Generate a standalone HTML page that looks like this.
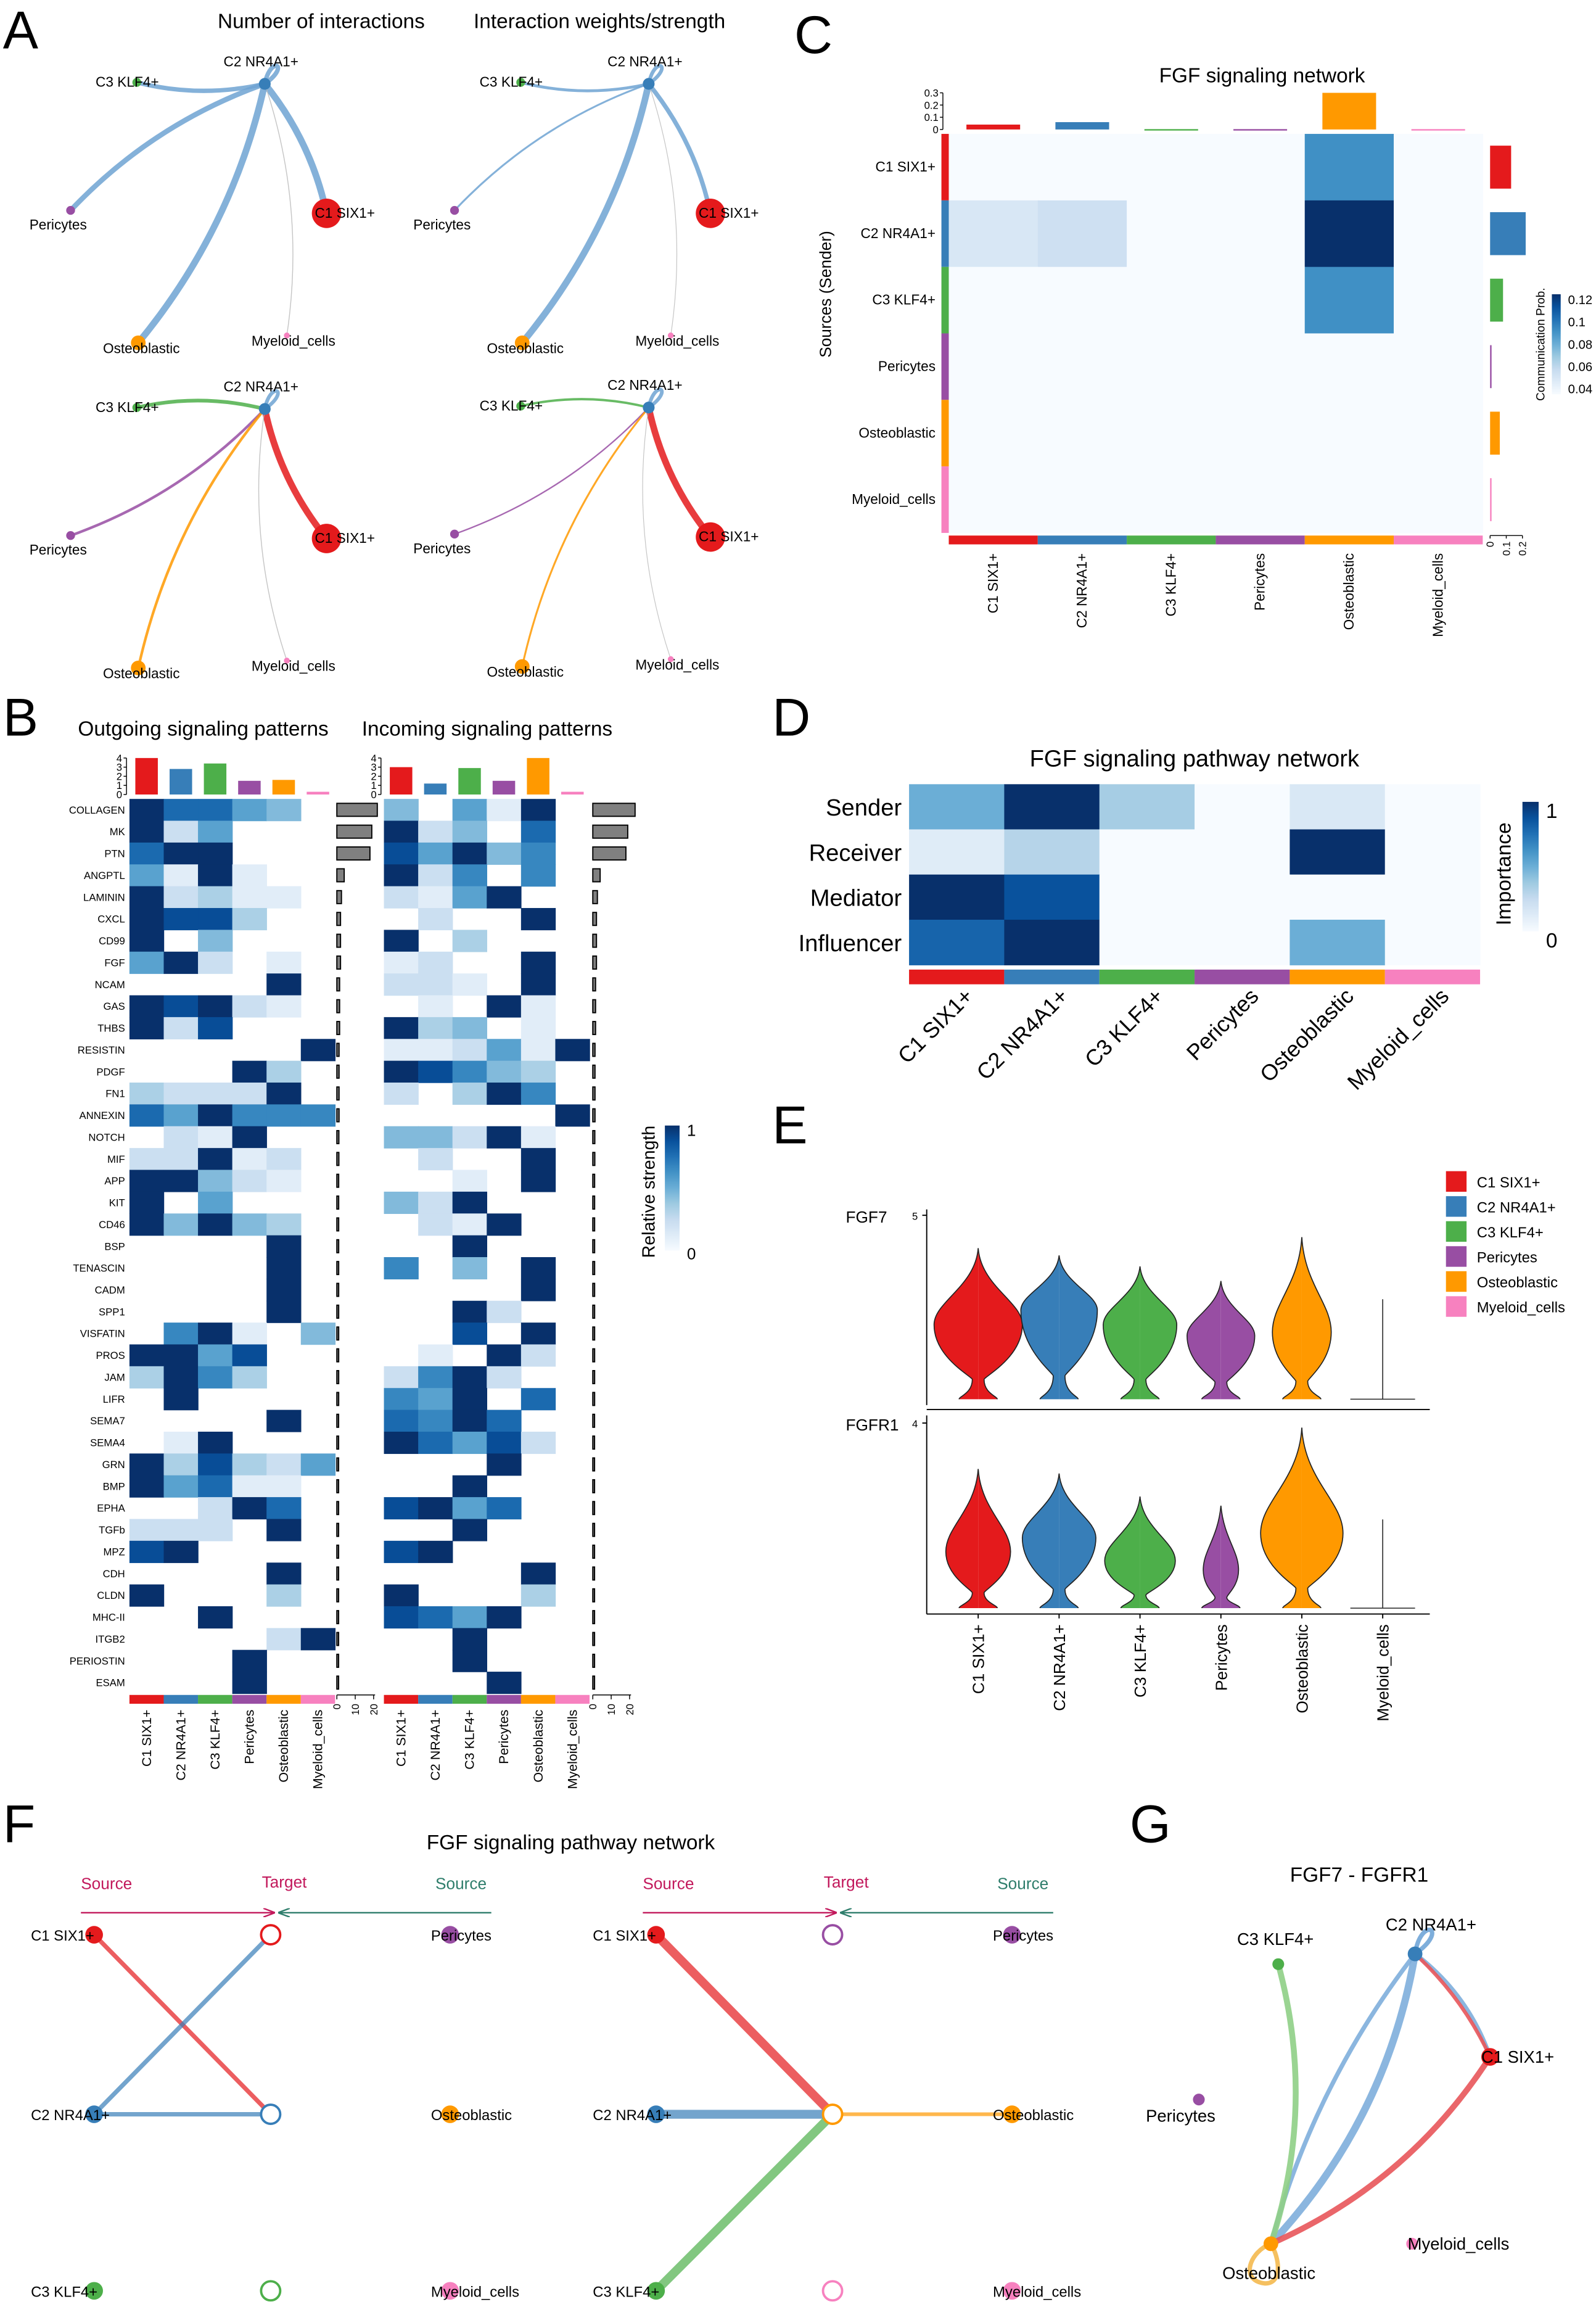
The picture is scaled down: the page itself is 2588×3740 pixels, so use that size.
<!DOCTYPE html>
<html><head><meta charset="utf-8"><style>
html,body{margin:0;padding:0;background:#fff}
svg{display:block;font-family:"Liberation Sans",Arial,sans-serif}
</style></head><body>
<svg id="fig" xmlns="http://www.w3.org/2000/svg" width="2588" height="3740" viewBox="0 0 1085 1568" preserveAspectRatio="none">
<rect x="0" y="0" width="1085" height="1568" fill="#fff"/>
<g font-size="36" fill="#000">
<text x="2" y="33">A</text>
<text x="2" y="500">B</text>
<text x="540" y="36">C</text>
<text x="525" y="500">D</text>
<text x="525" y="777">E</text>
<text x="2" y="1252">F</text>
<text x="768" y="1252">G</text>
</g>
</svg>
<script>
// ---------- data ----------
const groups = ["C1 SIX1+","C2 NR4A1+","C3 KLF4+","Pericytes","Osteoblastic","Myeloid_cells"];
const groupColors = ["#e41a1c","#377eb8","#4daf4a","#984ea3","#ff9900","#f781bf"];
const pathways = ["COLLAGEN","MK","PTN","ANGPTL","LAMININ","CXCL","CD99","FGF","NCAM","GAS","THBS","RESISTIN","PDGF","FN1","ANNEXIN","NOTCH","MIF","APP","KIT","CD46","BSP","TENASCIN","CADM","SPP1","VISFATIN","PROS","JAM","LIFR","SEMA7","SEMA4","GRN","BMP","EPHA","TGFb","MPZ","CDH","CLDN","MHC-II","ITGB2","PERIOSTIN","ESAM"];
const outgoing = ["977540","925000","799000","519100","923110","988300","904000","592010","000090","989210","928000","000009","000930","322290","759666","021900","229120","994210","905000","949430","000090","000090","000090","000090","069104","995800","396300","090000","000090","019000","938325","957110","002970","222090","890000","000090","900030","009000","000029","000900","000900"];
const incoming = ["405190","924070","859460","926060","215900","020090","903000","120090","221090","010910","934010","112519","986430","203960","000009","442910","020090","001090","429000","021900","009000","604090","000090","009200","008090","010920","269200","659070","769700","975820","000900","009000","895700","009000","890000","000090","900030","875900","009000","009000","000900"];
const outBars = [22,19,18,4,2.5,2,2,2,1.5,1.5,1.5,1.2,1.2,1.2,1.2,1.1,1.1,1,1,1,1,1,1,1,1,1,1,1,0.9,0.9,0.9,0.9,0.8,0.8,0.8,0.8,0.8,0.8,0.7,0.7,0.7];
const inBars = [23,19,18,4,2.5,2,2,2,1.5,1.5,1.5,1.2,1.2,1.2,1.2,1.1,1.1,1,1,1,1,1,1,1,1,1,1,1,0.9,0.9,0.9,0.9,0.8,0.8,0.8,0.8,0.8,0.8,0.7,0.7,0.7];
const outTop = [4,2.8,3.4,1.5,1.6,0.3];
const inTop = [3,1.2,2.9,1.5,4,0.3];
const topTicks = [0,1,2,3,4];
const barTicks = [0,10,20];

const fgfProb = [[0,0,0,0,0.09,0],[0.045,0.05,0,0,0.125,0],[0,0,0,0,0.09,0],[0,0,0,0,0,0],[0,0,0,0,0.005,0],[0,0,0,0,0,0]];
const fgfTop = [0.04,0.06,0.003,0.003,0.3,0.003];
const fgfRight = [0.13,0.22,0.08,0.005,0.06,0.005];
const fgfTopTicks = [0,0.1,0.2,0.3];
const fgfLegendTicks = [0.12,0.1,0.08,0.06,0.04];

const roles = ["Sender","Receiver","Mediator","Influencer"];
const importance = [[0.5,1,0.35,0,0.15,0],[0.12,0.3,0,0,1,0],[1,0.87,0,0,0,0],[0.8,1,0,0,0.5,0]];

const fgf7Top = [4.1,3.9,3.6,3.2,4.4,2.7];
const fgf7Peak = [2.0,2.4,2.0,1.7,1.8,0];
const fgf7Width = [30,26,25,23,20,0];
const fgfr1Top = [3.0,2.9,2.4,2.2,3.9,1.9];
const fgfr1Peak = [1.2,1.5,1.0,0.8,1.6,0];
const fgfr1Width = [22,25,24,12,28,0];

// circle-plot edges: [sourceIdx, targetIdx, width]
const aNumEdges = [[1,2,3],[1,3,3.5],[1,0,4.5],[1,4,4.5],[1,5,0.6],[1,1,3]];
const aWeightEdges = [[1,2,2],[1,3,1.3],[1,0,3],[1,4,4.5],[1,5,0.5],[1,1,2.5]];
const aNumEdges2 = [[2,1,2.5],[3,1,1.8],[0,1,4.5],[4,1,1.8],[5,1,0.6],[1,1,2.5]];
const aWeightEdges2 = [[2,1,1.6],[3,1,1],[0,1,4.5],[4,1,1.3],[5,1,0.5],[1,1,2.5]];
const fLeftEdges = [[0,1,3],[1,0,3],[1,1,3]];
const fRightEdges = [[0,4,6],[1,4,6],[2,4,6],[4,4,2.5]];
const gEdges = [[1,0,3,"a"],[0,1,2.5,"b"],[1,4,5,"a"],[1,4,3,"b"],[2,4,4,"a"],[0,4,4,"a"]];

// ---------- helpers ----------
const NS="http://www.w3.org/2000/svg";
const svg=document.getElementById('fig');
function mk(tag,attrs,parent){const e=document.createElementNS(NS,tag);for(const k in attrs)e.setAttribute(k,attrs[k]);(parent||svg).appendChild(e);return e;}
function txt(x,y,s,size,attrs,parent){const a=Object.assign({x:x,y:y,'font-size':size},attrs||{});const e=mk('text',a,parent);e.textContent=s;return e;}
const blueStops=["#f7fbff","#deebf7","#c6dbef","#9ecae1","#6baed6","#4292c6","#2171b5","#08519c","#08306b"];
function hex2(c){return [parseInt(c.slice(1,3),16),parseInt(c.slice(3,5),16),parseInt(c.slice(5,7),16)];}
function blues(t){t=Math.max(0,Math.min(1,t));const p=t*8;const i=Math.min(7,Math.floor(p));const f=p-i;const a=hex2(blueStops[i]),b=hex2(blueStops[i+1]);return "rgb("+a.map((v,k)=>Math.round(v+(b[k]-v)*f)).join(",")+")";}

// ---------- Panel A ----------
const aNodeBase=[[222,145,10],[180,57,4],[93,56,3],[48,143,3],[94,233,5],[195,228,2]];
const aLabelOff=[[-8,3,'start'],[-28,-12,'start'],[-28,3,'start'],[-28,13,'start'],[-24,7,'start'],[-24,7,'start']];
function curve(x1,y1,x2,y2,bend){const mx=(x1+x2)/2,my=(y1+y2)/2,dx=x2-x1,dy=y2-y1;const cx=mx-dy*bend,cy=my+dx*bend;return "M"+x1+","+y1+" Q"+cx+","+cy+" "+x2+","+y2;}
function loop(x,y,r,dir){return "M"+x+","+y+" C"+(x+dir*4)+","+(y-r*2.2)+" "+(x+dir*r*2)+","+(y-r*1.4)+" "+x+","+y;}
function circlePlot(dx,dy,edges,colored,name){
  const g=mk('g',{});
  
  
  edges.forEach(e=>{
    const s=aNodeBase[e[0]],t=aNodeBase[e[1]];
    let col=colored?groupColors[e[0]]:"#6fa3d2";
    if(e[0]===5||e[1]===5) col="#bbbbbb";
    if(e[0]===1&&e[1]===1) col="#6fa3d2";
    let d;
    if(e[0]===e[1]) d=loop(s[0]+dx,s[1]+dy,9,1);
    else d=curve(s[0]+dx,s[1]+dy,t[0]+dx,t[1]+dy,(e[0]===3||e[1]===3)?0.12:-0.12);
    const p=mk('path',{d:d,fill:'none',stroke:col,'stroke-width':e[2],'stroke-opacity':0.85},g);
    
    
  });
  aNodeBase.forEach((n,i)=>{
    const c=mk('circle',{cx:n[0]+dx,cy:n[1]+dy,r:n[2],fill:groupColors[i]},g);
    
    
    const t=txt(n[0]+dx+aLabelOff[i][0],n[1]+dy+aLabelOff[i][1],groups[i],9.5,{},g);
    
    
  });
}
const tA1=txt(148,19,"Number of interactions",14);  
const tA2=txt(322,19,"Interaction weights/strength",14);  
circlePlot(0,0,aNumEdges,false,'circle-plot-number');
circlePlot(261,0,aWeightEdges,false,'circle-plot-weights');
circlePlot(0,221,aNumEdges2,true,'circle-plot-number-incoming');
circlePlot(261,220,aWeightEdges2,true,'circle-plot-weights-incoming');

// ---------- Panel B ----------
const bY0=543,bRH=14.83,bCW=23.3;
const tB1=txt(53,500,"Outgoing signaling patterns",14);  
const tB2=txt(246,500,"Incoming signaling patterns",14);  
function bHeat(x0,vals,tops,bars,name,barX){
  const g=mk('g',{});
  
  
  vals.forEach((row,r)=>{
    for(let c=0;c<6;c++){
      const v=+row[c];
      if(v===0) continue;
      const rc=mk('rect',{x:x0+c*bCW,y:bY0+r*bRH,width:bCW+0.3,height:bRH+0.3,fill:blues(v/9)},g);
      
      
    }
  });
  // row labels
  if(x0<200) pathways.forEach((p,r)=>{const t=txt(x0-3,bY0+r*bRH+bRH/2+2.5,p,7,{'text-anchor':'end'},g);});
  else pathways.forEach((p,r)=>{});
  // top bars
  const base=540,sc=6.2;
  tops.forEach((v,c)=>{const b=mk('rect',{x:x0+c*bCW+4,y:base-v*sc,width:bCW-8,height:Math.max(1.5,v*sc),fill:groupColors[c]},g);});
  mk('line',{x1:x0-2,y1:base,x2:x0-2,y2:base-4*sc,stroke:'#000','stroke-width':0.6},g);
  topTicks.forEach(t=>{mk('line',{x1:x0-4,y1:base-t*sc,x2:x0-2,y2:base-t*sc,stroke:'#000','stroke-width':0.6},g);const tt=txt(x0-5,base-t*sc+2.5,String(t),7,{'text-anchor':'end'},g);});
  // bottom strip
  groups.forEach((gname,c)=>{const s=mk('rect',{x:x0+c*bCW,y:1152,width:bCW,height:6,fill:groupColors[c]},g);
    const t=txt(0,0,gname,9,{'text-anchor':'end',transform:'translate('+(x0+c*bCW+bCW/2+3)+',1162) rotate(-90)'},g);});
  // right bars
  const bs=1.25;
  bars.forEach((v,r)=>{const b=mk('rect',{x:barX,y:bY0+r*bRH+3,width:Math.max(1.2,v*bs),height:bRH-6,fill:'#808080',stroke:'#000','stroke-width':0.8},g);});
  mk('line',{x1:barX,y1:1152,x2:barX+26,y2:1152,stroke:'#000','stroke-width':0.6},g);
  barTicks.forEach(t=>{mk('line',{x1:barX+t*bs,y1:1152,x2:barX+t*bs,y2:1155,stroke:'#000','stroke-width':0.6},g);const tt=txt(0,0,String(t),7,{'text-anchor':'end',transform:'translate('+(barX+t*bs+2.5)+',1158) rotate(-90)'},g);});
}
bHeat(88,outgoing,outTop,outBars,'outgoing-heatmap',229);
bHeat(261,incoming,inTop,inBars,'incoming-heatmap',403);
(function(){
  const defs=mk('defs',{});
  const lg=mk('linearGradient',{id:'gB',x1:0,y1:1,x2:0,y2:0},defs);
  blueStops.forEach((c,i)=>mk('stop',{offset:(i/8),'stop-color':c},lg));
  const r=mk('rect',{x:452,y:765,width:10,height:85,fill:'url(#gB)'});
  const t1=txt(467,772,"1",11);
  const t0=txt(467,856,"0",11);
  const tl=txt(0,0,"Relative strength",12,{'text-anchor':'middle',transform:'translate(445,810) rotate(-90)'});
})();

// ---------- Panel C ----------
(function(){
  const x0=645,cw=60.5,y0=91,rh=45.2;
  const t=txt(858,56,"FGF signaling network",14,{'text-anchor':'middle'});
  fgfProb.forEach((row,r)=>row.forEach((v,c)=>{
    const col=v<=0.0?"#f7fbff":blues((v-0.03)/0.095);
    const rc=mk('rect',{x:x0+c*cw,y:y0+r*rh,width:cw+0.3,height:rh+0.3,fill:col});
    
    
  }));
  groups.forEach((gname,i)=>{
    const s=mk('rect',{x:640,y:y0+i*rh,width:5,height:rh,fill:groupColors[i]});
    const b=mk('rect',{x:x0+i*cw,y:364,width:cw,height:6,fill:groupColors[i]});
    const rl=txt(636,y0+i*rh+rh/2+3,gname,9.5,{'text-anchor':'end'});
    const cl=txt(0,0,gname,9.5,{'text-anchor':'end',transform:'translate('+(x0+i*cw+cw/2+3)+',376) rotate(-90)'});
  });
  const sc=83;
  fgfTop.forEach((v,i)=>{const b=mk('rect',{x:x0+i*cw+12,y:88-v*sc,width:cw-24,height:Math.max(1,v*sc),fill:groupColors[i]});});
  mk('line',{x1:641,y1:88,x2:641,y2:88-0.3*sc,stroke:'#000','stroke-width':0.6});
  fgfTopTicks.forEach(v=>{mk('line',{x1:639,y1:88-v*sc,x2:641,y2:88-v*sc,stroke:'#000','stroke-width':0.6});const tt=txt(638,88-v*sc+2.5,String(v),7,{'text-anchor':'end'});});
  const rs=110;
  fgfRight.forEach((v,i)=>{const b=mk('rect',{x:1013,y:y0+i*rh+8,width:Math.max(1,v*rs),height:rh-16,fill:groupColors[i]});});
  mk('line',{x1:1013,y1:364,x2:1035,y2:364,stroke:'#000','stroke-width':0.6});
  [0,0.1,0.2].forEach(v=>{mk('line',{x1:1013+v*rs,y1:364,x2:1013+v*rs,y2:366,stroke:'#000','stroke-width':0.6});const tt=txt(0,0,String(v),7,{'text-anchor':'end',transform:'translate('+(1015.5+v*rs)+',368) rotate(-90)'});});
  const sl=txt(0,0,"Sources (Sender)",11,{'text-anchor':'middle',transform:'translate(565,200) rotate(-90)'});
  const defs=mk('defs',{});
  const lg=mk('linearGradient',{id:'gC',x1:0,y1:1,x2:0,y2:0},defs);
  blueStops.forEach((c,i)=>mk('stop',{offset:(i/8),'stop-color':c},lg));
  const cb=mk('rect',{x:1055,y:200,width:6,height:68,fill:'url(#gC)'});
  fgfLegendTicks.forEach(v=>{const yy=268-(v-0.035)/0.09*68;const tt=txt(1066,yy+3,String(v),8.5);});
  const lt=txt(0,0,"Communication Prob.",8,{'text-anchor':'middle',transform:'translate(1050,234) rotate(-90)'});
})();

// ---------- Panel D ----------
(function(){
  const x0=618,cw=64.7,y0=533,rh=30.7;
  const t=txt(812,521,"FGF signaling pathway network",16,{'text-anchor':'middle'});
  importance.forEach((row,r)=>{
    row.forEach((v,c)=>{const rc=mk('rect',{x:x0+c*cw,y:y0+r*rh,width:cw+0.3,height:rh+0.3,fill:blues(v)});});
    const rl=txt(613,y0+r*rh+rh/2+6,roles[r],16,{'text-anchor':'end'});
  });
  groups.forEach((gname,i)=>{
    const s=mk('rect',{x:x0+i*cw,y:659,width:cw,height:10,fill:groupColors[i]});
    const cl=txt(0,0,gname,15,{'text-anchor':'end',transform:'translate('+(x0+i*cw+cw/2+12)+',678) rotate(-45)'});
  });
  const defs=mk('defs',{});
  const lg=mk('linearGradient',{id:'gD',x1:0,y1:1,x2:0,y2:0},defs);
  blueStops.forEach((c,i)=>mk('stop',{offset:(i/8),'stop-color':c},lg));
  const cb=mk('rect',{x:1035,y:545,width:11,height:88,fill:'url(#gD)'});
  const a=txt(1051,556,"1",14);
  const b=txt(1051,644,"0",14);
  const lt=txt(0,0,"Importance",14,{'text-anchor':'middle',transform:'translate(1027,594) rotate(-90)'});
})();

// ---------- Panel E ----------
(function(){
  const xs=[665,720,775,830,885,940];
  groups.forEach((gname,i)=>{
    const r=mk('rect',{x:983,y:796+i*17,width:14,height:14,fill:groupColors[i]});
    const t=txt(1004,807+i*17,gname,10);
  });
  function violinPanel(y0v,ppu,tops,peaks,widths,axisTop,axisBot,label,tick,name){
    const yS=v=>y0v-v*ppu;
    const g=mk('g',{});
    
    
    mk('line',{x1:630,y1:axisTop,x2:630,y2:axisBot,stroke:'#000','stroke-width':0.8},g);
    mk('line',{x1:627,y1:yS(tick),x2:630,y2:yS(tick),stroke:'#000','stroke-width':0.8},g);
    const tt=txt(622,yS(tick)+3,String(tick),7,{'text-anchor':'middle'},g);
    const lb=txt(575,yS(tick)+5,label,11,{},g);
    xs.forEach((x,i)=>{
      let d;
      if(widths[i]===0){
        d="M"+(x-22)+","+(y0v+1)+" L"+(x+22)+","+(y0v+1)+" M"+x+","+(y0v+1)+" L"+x+","+yS(tops[i]);
        const p=mk('path',{d:d,fill:'none',stroke:'#333','stroke-width':0.7},g);
        return;
      }
      const w=widths[i],pk=yS(peaks[i]),top=yS(tops[i]),bot=y0v+1,neck=yS(peaks[i]*0.25);
      const R=(s)=>"M"+x+","+top+
        " C"+(x+s*2)+","+(top+(pk-top)*0.5)+" "+(x+s*w)+","+(pk-(pk-top)*0.3)+" "+(x+s*w)+","+pk+
        " C"+(x+s*w)+","+(pk+(neck-pk)*0.6)+" "+(x+s*4)+","+(neck-2)+" "+(x+s*4)+","+neck+
        " C"+(x+s*4)+","+(bot-4)+" "+(x+s*13)+","+(bot-2)+" "+(x+s*13)+","+bot+" L"+x+","+bot+" Z";
      const p1=mk('path',{d:R(1),fill:groupColors[i],stroke:'none'},g);
      const p2=mk('path',{d:R(-1),fill:groupColors[i],stroke:'none'},g);
      
      
      const o1=mk('path',{d:R(1).replace(/ L[^Z]*Z/,''),fill:'none',stroke:'#222','stroke-width':0.7},g);
      const o2=mk('path',{d:R(-1).replace(/ L[^Z]*Z/,''),fill:'none',stroke:'#222','stroke-width':0.7},g);
      
      
    });
  }
  violinPanel(950,24.8,fgf7Top,fgf7Peak,fgf7Width,822,955,"FGF7",5,'fgf7-violins');
  mk('line',{x1:630,y1:958,x2:972,y2:958,stroke:'#000','stroke-width':0.8});
  violinPanel(1092,31.2,fgfr1Top,fgfr1Peak,fgfr1Width,962,1097,"FGFR1",4,'fgfr1-violins');
  mk('line',{x1:630,y1:1097,x2:972,y2:1097,stroke:'#000','stroke-width':0.8});
  xs.forEach((x,i)=>{mk('line',{x1:x,y1:1097,x2:x,y2:1100,stroke:'#000','stroke-width':0.8});
    const t=txt(0,0,groups[i],11,{'text-anchor':'end',transform:'translate('+(x+4)+',1104) rotate(-90)'});});
})();

// ---------- Panel F ----------
(function(){
  const t=txt(388,1257,"FGF signaling pathway network",14,{'text-anchor':'middle'});
  const defs=mk('defs',{});
  const m1=mk('marker',{id:'arM',markerWidth:8,markerHeight:6,refX:7,refY:3,orient:'auto'},defs);mk('path',{d:'M0,0 L8,3 L0,6',fill:'none',stroke:'#c2185b','stroke-width':1},m1);
  const m2=mk('marker',{id:'arT',markerWidth:8,markerHeight:6,refX:7,refY:3,orient:'auto'},defs);mk('path',{d:'M0,0 L8,3 L0,6',fill:'none',stroke:'#2e7d6b','stroke-width':1},m2);
  const ys=[1315,1437,1557];
  function hive(dx,leftSrc,targets,rightSrc,edges,name){
    const g=mk('g',{});
    
    
    const lx=64+dx,tx=184+dx,rx=304+dx;
    const s1=txt(lx-9,1284,"Source",11,{fill:'#c2185b'},g);
    const s2=txt(tx-6,1283,"Target",11,{fill:'#c2185b'},g);
    const s3=txt(rx-8,1284,"Source",11,{fill:'#2e7d6b'},g);
    mk('line',{x1:lx-9,y1:1300,x2:tx+2,y2:1300,stroke:'#c2185b','stroke-width':1,'marker-end':'url(#arM)'},g);
    mk('line',{x1:rx+30,y1:1300,x2:tx+6,y2:1300,stroke:'#2e7d6b','stroke-width':1,'marker-end':'url(#arT)'},g);
    edges.forEach(e=>{
      let x1,y1;
      if(e[0]===4){x1=rx+2;y1=ys[1];}
      else {x1=lx;y1=ys[e[0]];}
      const ti=e[1]===4?1:e[1];
      const col=groupColors[e[0]];
      const p=mk('path',{d:'M'+x1+','+y1+' L'+tx+','+ys[ti],stroke:col,'stroke-width':e[2],'stroke-opacity':0.7,fill:'none'},g);
      
    });
    leftSrc.forEach((i,k)=>{const c=mk('circle',{cx:lx,cy:ys[k],r:6,fill:groupColors[i]},g);
      const l=txt(lx-43,ys[k]+4,groups[i],10,{},g);});
    targets.forEach((i,k)=>{const c=mk('circle',{cx:tx,cy:ys[k],r:6.5,fill:'#fff',stroke:groupColors[i],'stroke-width':1.6},g);});
    rightSrc.forEach((i,k)=>{const c=mk('circle',{cx:rx+2,cy:ys[k],r:6,fill:groupColors[i]},g);
      const l=txt(rx-11,ys[k]+4,groups[i],10,{},g);});
  }
  hive(0,[0,1,2],[0,1,2],[3,4,5],fLeftEdges,'hive-left');
  hive(382,[0,1,2],[3,4,5],[3,4,5],fRightEdges,'hive-right');
})();

// ---------- Panel G ----------
(function(){
  const t=txt(924,1279,"FGF7 - FGFR1",14,{'text-anchor':'middle'});
  const nodes=[[1013,1398,6],[962,1328,5],[869,1335,4],[815,1427,4],[864,1525,5],[960,1525,4]];
  const lab=[[-6,4],[-20,-16],[-28,-13],[-36,15],[-33,24],[-3,4]];
  const g=mk('g',{});
  
  
  gEdges.forEach(e=>{
    const s=nodes[e[0]],tn=nodes[e[1]];
    const bend=e[3]==="a"?-0.15:0.1;
    const p=mk('path',{d:curve(s[0],s[1],tn[0],tn[1],bend),fill:'none',stroke:e[0]===0?'#e8555a':(e[0]===2?'#8fcf86':'#7eaedb'),'stroke-width':e[2],'stroke-opacity':0.9},g);
    
  });
  const l1=mk('path',{d:loop(962,1328,12,1),fill:'none',stroke:'#7eaedb','stroke-width':3},g);
  const l2=mk('path',{d:"M864,1525 C850,1530 842,1550 860,1552 C872,1552 870,1535 864,1525",fill:'none',stroke:'#f5c060','stroke-width':3},g);
  nodes.forEach((n,i)=>{const c=mk('circle',{cx:n[0],cy:n[1],r:n[2],fill:groupColors[i]},g);
    const l=txt(n[0]+lab[i][0],n[1]+lab[i][1],groups[i],11.5,{},g);});
})();
</script>
</body></html>
